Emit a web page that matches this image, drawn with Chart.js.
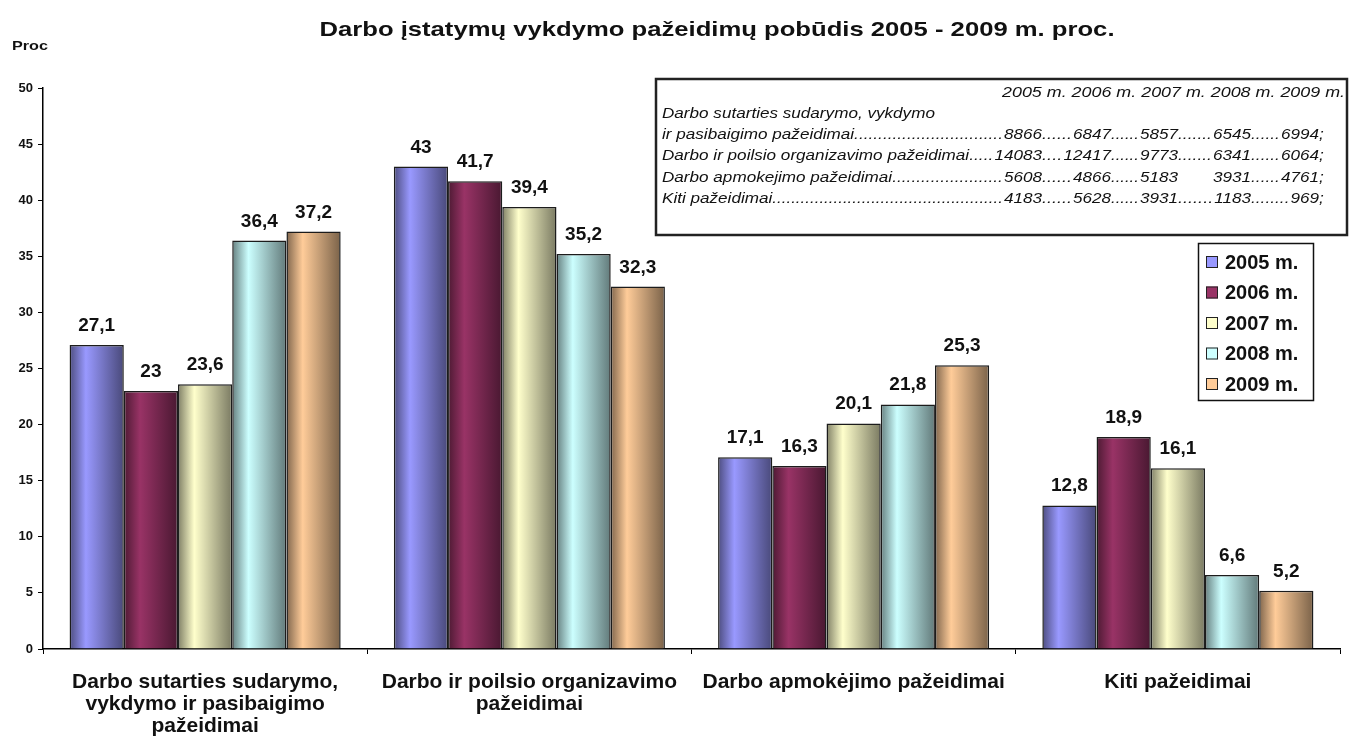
<!DOCTYPE html>
<html>
<head>
<meta charset="utf-8">
<script src="https://cdn.jsdelivr.net/npm/chart.js@4.4.1/dist/chart.umd.min.js"></script>
<style>
  html, body { margin:0; padding:0; background:#fff; }
  canvas { display:block; }
</style>
</head>
<body>
<canvas id="chart" width="1353" height="745"></canvas>
<script>
const title = 'Darbo įstatymų vykdymo pažeidimų pobūdis 2005 - 2009 m. proc.';
const yLabel = 'Proc';
const categories = [
  ['Darbo sutarties sudarymo,', 'vykdymo ir pasibaigimo', 'pažeidimai'],
  ['Darbo ir poilsio organizavimo', 'pažeidimai'],
  ['Darbo apmokėjimo pažeidimai'],
  ['Kiti pažeidimai']
];
const years = ['2005 m.', '2006 m.', '2007 m.', '2008 m.', '2009 m.'];
const colors = ['#9999FF', '#993366', '#FFFFCC', '#CCFFFF', '#FFCC99'];
const v2005 = [27.1, 43, 17.1, 12.8];
const v2006 = [23, 41.7, 16.3, 18.9];
const v2007 = [23.6, 39.4, 20.1, 16.1];
const v2008 = [36.4, 35.2, 21.8, 6.6];
const v2009 = [37.2, 32.3, 25.3, 5.2];
const yTicks = [0, 5, 10, 15, 20, 25, 30, 35, 40, 45, 50];

// counts shown in the text box
const tableHead = 'Darbo sutarties sudarymo, vykdymo';
const tableRows = ['ir pasibaigimo pažeidimai', 'Darbo ir poilsio organizavimo pažeidimai', 'Darbo apmokejimo pažeidimai', 'Kiti pažeidimai'];
const contractCounts = [8866, 6847, 5857, 6545, 6994];
const restCounts = [14083, 12417, 9773, 6341, 6064];
const payCounts = [5608, 4866, 5183, 3931, 4761];
const otherCounts = [4183, 5628, 3931, 1183, 969];

const series = [v2005, v2006, v2007, v2008, v2009];
const catPct = 0.836;
const FONT = '"Liberation Sans", Arial, sans-serif';

function shade(hex, f){
  const n = parseInt(hex.slice(1), 16);
  const r = Math.round(((n >> 16) & 255) * f), g = Math.round(((n >> 8) & 255) * f), b = Math.round((n & 255) * f);
  return `rgb(${r},${g},${b})`;
}
function barFill(c){
  const base = colors[c.datasetIndex];
  const chart = c.chart, xs = chart.scales.x;
  if (c.type !== 'data' || !xs || !chart.chartArea) return base;
  const catW = xs.getPixelForValue(1) - xs.getPixelForValue(0);
  const groupW = catW * catPct, slot = groupW / series.length;
  const left = xs.getPixelForValue(c.dataIndex) - groupW / 2 + slot * c.datasetIndex;
  const g = chart.ctx.createLinearGradient(left, 0, left + slot, 0);
  g.addColorStop(0, shade(base, 0.5));
  g.addColorStop(0.3, base);
  g.addColorStop(1, shade(base, 0.48));
  return g;
}
// the source picture is stretched sideways, so text is drawn with a horizontal scale
function fitText(ctx, text, x, y, width, align){
  const sx = width / ctx.measureText(text).width;
  ctx.save();
  ctx.translate(x, y);
  ctx.scale(sx, 1);
  ctx.textAlign = align || 'left';
  ctx.fillText(text, 0, 0);
  ctx.restore();
}
function stretchText(ctx, text, x, y, sx, align){
  ctx.save();
  ctx.translate(x, y);
  ctx.scale(sx, 1);
  ctx.textAlign = align || 'left';
  ctx.fillText(text, 0, 0);
  ctx.restore();
  return ctx.measureText(text).width * sx;
}

const decor = {
  id: 'decor',
  afterDatasetsDraw(chart){
    const ctx = chart.ctx;
    ctx.save();
    ctx.fillStyle = '#111';
    ctx.textBaseline = 'alphabetic';
    // value labels
    ctx.font = 'bold 19px ' + FONT;
    chart.data.datasets.forEach((ds, i) => {
      chart.getDatasetMeta(i).data.forEach((bar, j) => {
        ctx.textAlign = 'center';
        ctx.fillText(String(ds.data[j]).replace('.', ','), bar.x, bar.y - 14);
      });
    });
    // title
    ctx.font = 'bold 21px ' + FONT;
    fitText(ctx, title, 717, 36, 795, 'center');
    ctx.font = 'bold 13px ' + FONT;
    fitText(ctx, yLabel, 12, 50, 36, 'left');

    // text box
    ctx.strokeStyle = '#222';
    ctx.lineWidth = 2.5;
    ctx.strokeRect(656, 79, 691, 156);
    ctx.font = 'italic 14.5px ' + FONT;
    const sx = 1.18;
    fitText(ctx, years.join(' '), 1002, 97, 343, 'left');
    stretchText(ctx, tableHead, 662, 118, sx, 'left');
    const cols = [1042, 1111, 1178, 1251, 1319];
    const dotW = ctx.measureText('.').width * sx;
    [contractCounts, restCounts, payCounts, otherCounts].forEach((counts, r) => {
      const y = 139 + r * 21.3;
      let x = 662 + stretchText(ctx, tableRows[r], 662, y, sx, 'left');
      counts.forEach((n, k) => {
        const s = String(n);
        const w = ctx.measureText(s).width * sx;
        const start = cols[k] - w;
        const gap = start - x - 1;
        const dots = Math.max(1, Math.round(gap / dotW));
        // the pay row has blank space instead of dots before 2008
        if (gap > 2 && !(r === 2 && k === 3)) fitText(ctx, '.'.repeat(dots), x, y, gap, 'left');
        stretchText(ctx, s, start, y, sx, 'left');
        x = cols[k];
      });
      stretchText(ctx, ';', x, y, sx, 'left');
    });

    // legend
    ctx.lineWidth = 1.5;
    ctx.strokeStyle = '#111';
    ctx.strokeRect(1198.5, 243.5, 115, 157);
    ctx.font = 'bold 20px ' + FONT;
    years.forEach((yr, i) => {
      const cy = 262 + i * 30.5;
      ctx.fillStyle = colors[i];
      ctx.fillRect(1206, cy - 6, 12, 12);
      ctx.lineWidth = 1;
      ctx.strokeStyle = '#222';
      ctx.strokeRect(1206.5, cy - 5.5, 11, 11);
      ctx.fillStyle = '#111';
      ctx.textAlign = 'left';
      ctx.textBaseline = 'middle';
      ctx.fillText(yr, 1225, cy + 1);
    });
    ctx.restore();
  }
};

new Chart(document.getElementById('chart'), {
  type: 'bar',
  data: {
    labels: categories,
    datasets: series.map((vals, i) => ({
      label: years[i],
      data: vals,
      backgroundColor: barFill,
      borderColor: '#1c1c1c',
      borderWidth: 1.5,
      categoryPercentage: catPct,
      barPercentage: 1
    }))
  },
  options: {
    responsive: false,
    animation: false,
    layout: { padding: { top: 88, right: 13, left: 0, bottom: 0 } },
    plugins: { legend: { display: false }, tooltip: { enabled: false } },
    scales: {
      x: {
        grid: { display: true, drawOnChartArea: false, offset: true, tickLength: 5, color: '#000' },
        border: { color: '#000', width: 1.5 },
        ticks: { color: '#111', font: { family: FONT, size: 21, weight: 'bold', lineHeight: 1.05 }, padding: 17, maxRotation: 0, autoSkip: false },
        afterFit(s){ s.height = 96; }
      },
      y: {
        min: 0, max: 50,
        afterBuildTicks(s){ s.ticks = yTicks.map(v => ({ value: v })); },
        grid: { display: true, drawOnChartArea: false, tickLength: 5, color: '#000' },
        border: { color: '#000', width: 1.5 },
        ticks: { color: '#111', font: { family: FONT, size: 13, weight: 'bold' }, padding: 5 },
        afterFit(s){ s.width = 43; }
      }
    }
  },
  plugins: [decor]
});
</script>
</body>
</html>
